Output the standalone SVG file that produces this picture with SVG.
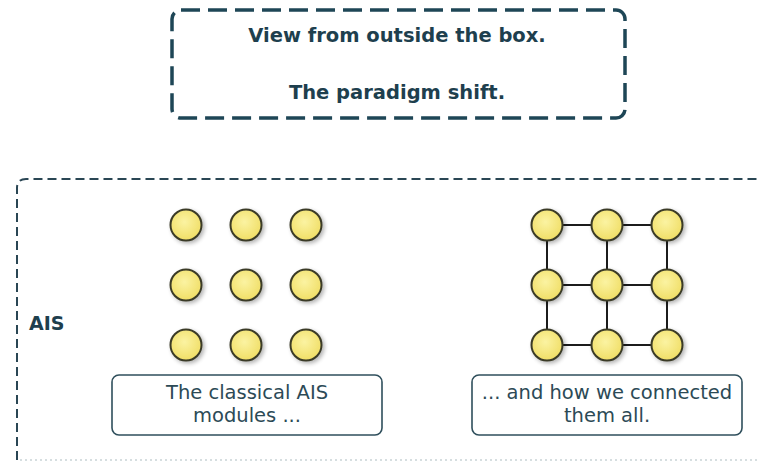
<svg xmlns="http://www.w3.org/2000/svg" width="758" height="462" viewBox="0 0 758 462">
  <defs>
    <radialGradient id="ball" cx="45%" cy="40%" r="60%">
      <stop offset="0" stop-color="#fbf3a2"/>
      <stop offset="1" stop-color="#f0de66"/>
    </radialGradient>
    <filter id="shadow" x="-40%" y="-40%" width="180%" height="180%">
      <feGaussianBlur in="SourceAlpha" stdDeviation="2"/>
      <feOffset dx="2" dy="2" result="b"/>
      <feComponentTransfer><feFuncA type="linear" slope="0.3"/></feComponentTransfer>
      <feMerge><feMergeNode/><feMergeNode in="SourceGraphic"/></feMerge>
    </filter>
    <style>
      .title { font-family: "DejaVu Sans", Verdana, sans-serif; font-weight: bold; font-size: 19.5px; fill: #1e3f4e; text-anchor: middle; }
      .ais { font-family: "DejaVu Sans", Verdana, sans-serif; font-weight: bold; font-size: 19px; fill: #1e3f4e; }
      .lbl { font-family: "DejaVu Sans", Verdana, sans-serif; font-size: 19.5px; fill: #2c4a56; text-anchor: middle; }
      .lblbox { fill: #ffffff; stroke: #2f4f5c; stroke-width: 1.6; }
      .node { fill: url(#ball); stroke: #3a3a28; stroke-width: 2; filter: url(#shadow); }
      .edge { stroke: #1c1c1c; stroke-width: 2; fill: none; }
    </style>
  </defs>
  <rect width="758" height="462" fill="#ffffff"/>

  <g id="title">
    <rect x="172" y="10" width="453" height="108" rx="9" fill="none" stroke="#1e4656" stroke-width="3.5" stroke-dasharray="19 8"/>
    <text class="title" x="397" y="42">View from outside the box.</text>
    <text class="title" x="397" y="99">The paradigm shift.</text>
  </g>

  <g id="ais-container">
    <path d="M17 460 L17 188 Q17 179 26 179 L760 179" fill="none" stroke="#2a4654" stroke-width="2" stroke-dasharray="9 5"/>
    <line x1="20" y1="460" x2="758" y2="460" stroke="#c9d3d6" stroke-width="1.5" stroke-dasharray="2 3"/>
    <text class="ais" x="29" y="330">AIS</text>
  </g>

  <g id="connectors">
    <line class="edge" x1="547" y1="225" x2="667" y2="225"/>
    <line class="edge" x1="547" y1="285" x2="667" y2="285"/>
    <line class="edge" x1="547" y1="345" x2="667" y2="345"/>
    <line class="edge" x1="547" y1="225" x2="547" y2="345"/>
    <line class="edge" x1="607" y1="225" x2="607" y2="345"/>
    <line class="edge" x1="667" y1="225" x2="667" y2="345"/>
  </g>

  <g id="classical-modules">
    <circle class="node" cx="186" cy="225" r="15.5"/>
    <circle class="node" cx="246" cy="225" r="15.5"/>
    <circle class="node" cx="306" cy="225" r="15.5"/>
    <circle class="node" cx="186" cy="285" r="15.5"/>
    <circle class="node" cx="246" cy="285" r="15.5"/>
    <circle class="node" cx="306" cy="285" r="15.5"/>
    <circle class="node" cx="186" cy="345" r="15.5"/>
    <circle class="node" cx="246" cy="345" r="15.5"/>
    <circle class="node" cx="306" cy="345" r="15.5"/>
  </g>

  <g id="connected-modules">
    <circle class="node" cx="547" cy="225" r="15.5"/>
    <circle class="node" cx="607" cy="225" r="15.5"/>
    <circle class="node" cx="667" cy="225" r="15.5"/>
    <circle class="node" cx="547" cy="285" r="15.5"/>
    <circle class="node" cx="607" cy="285" r="15.5"/>
    <circle class="node" cx="667" cy="285" r="15.5"/>
    <circle class="node" cx="547" cy="345" r="15.5"/>
    <circle class="node" cx="607" cy="345" r="15.5"/>
    <circle class="node" cx="667" cy="345" r="15.5"/>
  </g>

  <g id="label-classical">
    <rect class="lblbox" x="112" y="375" width="270" height="60" rx="7"/>
    <text class="lbl" x="247" y="399">The classical AIS</text>
    <text class="lbl" x="247" y="422">modules ...</text>
  </g>

  <g id="label-connected">
    <rect class="lblbox" x="472" y="375" width="270" height="60" rx="7"/>
    <text class="lbl" x="607" y="399">... and how we connected</text>
    <text class="lbl" x="607" y="422">them all.</text>
  </g>
</svg>
